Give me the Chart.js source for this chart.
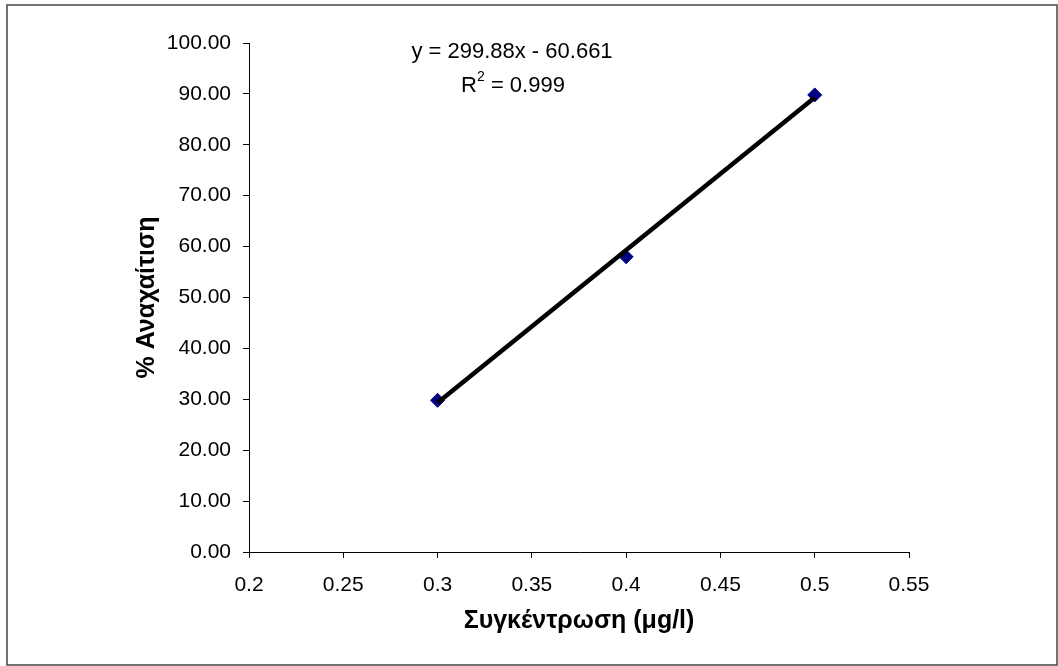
<!DOCTYPE html>
<html>
<head>
<meta charset="utf-8">
<script src="https://cdn.jsdelivr.net/npm/chart.js@4.4.0/dist/chart.umd.min.js"></script>
<style>
  html, body { margin: 0; padding: 0; background: #fff; }
  #wrap { position: relative; width: 1058px; height: 666px; }
</style>
</head>
<body>
<div id="wrap"><canvas id="chart"></canvas></div>
<script>
// concentration (μg/l) and % inhibition
const concentrations = [0.3, 0.4, 0.5];
const inhibition = [29.8, 58.0, 89.8];

// trendline as printed on the chart
const slope = 299.88;
const intercept = -60.661;
const rSquared = "0.999";

const xTitle = "Συγκέντρωση (μg/l)";
const yTitle = "% Αναχαίτιση";

let points = concentrations.map((c, i) => ({ x: c, y: inhibition[i] }));
let xFirst = concentrations[0];
let xLast = concentrations[concentrations.length - 1];
let trendPoints = [
    { x: xFirst, y: slope * xFirst + intercept },
    { x: xLast, y: slope * xLast + intercept }
];

const fontFamily = "'Liberation Sans', Arial, sans-serif";

// frame round the whole picture + the equation text
const extras = {
    id: "extras",
    afterDraw(chart) {
        let ctx = chart.ctx;
        ctx.save();
        ctx.strokeStyle = "#444";
        ctx.lineWidth = 1.5;
        ctx.strokeRect(7, 5, 1050, 660);

        ctx.fillStyle = "#000";
        ctx.font = "22px " + fontFamily;
        ctx.textAlign = "center";
        ctx.textBaseline = "middle";
        let sign = intercept < 0 ? " - " : " + ";
        ctx.fillText("y = " + slope + "x" + sign + Math.abs(intercept), 512, 52);

        // R² with a raised 2
        let rest = " = " + rSquared;
        let wR = ctx.measureText("R").width;
        ctx.font = "14px " + fontFamily;
        let w2 = ctx.measureText("2").width;
        ctx.font = "22px " + fontFamily;
        let wRest = ctx.measureText(rest).width;
        let startX = 513 - (wR + w2 + wRest) / 2;
        ctx.textAlign = "left";
        ctx.fillText("R", startX, 86);
        ctx.font = "14px " + fontFamily;
        ctx.fillText("2", startX + wR, 77);
        ctx.font = "22px " + fontFamily;
        ctx.fillText(rest, startX + wR + w2, 86);
        ctx.restore();
    }
};

let ctx = document.getElementById("chart").getContext("2d");
new Chart(ctx, {
    type: "scatter",
    data: {
        datasets: [
            {
                type: "line",
                label: "trend",
                data: trendPoints,
                borderColor: "#000",
                borderWidth: 4.5,
                pointRadius: 0,
                fill: false,
                order: 0
            },
            {
                label: "data",
                data: points,
                pointStyle: "rectRot",
                pointRadius: 7,
                pointBackgroundColor: "#000080",
                pointBorderColor: "#000080",
                pointBorderWidth: 1,
                order: 1
            }
        ]
    },
    options: {
        responsive: true,
        maintainAspectRatio: false,
        animation: false,
        layout: { padding: { left: 128, right: 149, top: 43, bottom: 26 } },
        plugins: {
            legend: { display: false },
            tooltip: { enabled: false }
        },
        scales: {
            x: {
                type: "linear",
                min: 0.2,
                max: 0.55,
                afterFit: s => { s.height = 88; },
                ticks: {
                    stepSize: 0.05,
                    padding: 15,
                    color: "#000",
                    font: { family: fontFamily, size: 21 },
                    callback: v => String(parseFloat(v.toFixed(2)))
                },
                grid: { display: true, drawOnChartArea: false, drawTicks: true, tickLength: 6, color: "#000" },
                border: { display: true, color: "#000", width: 1 },
                title: {
                    display: true,
                    text: xTitle,
                    color: "#000",
                    font: { family: fontFamily, size: 25, weight: "bold" }
                }
            },
            y: {
                min: 0,
                max: 100,
                afterFit: s => { s.width = 121; },
                ticks: {
                    stepSize: 10,
                    padding: 12,
                    color: "#000",
                    font: { family: fontFamily, size: 21 },
                    callback: v => v.toFixed(2)
                },
                grid: { display: true, drawOnChartArea: false, drawTicks: true, tickLength: 6, color: "#000" },
                border: { display: true, color: "#000", width: 1 },
                title: {
                    display: true,
                    text: yTitle,
                    color: "#000",
                    font: { family: fontFamily, size: 25, weight: "bold" }
                }
            }
        }
    },
    plugins: [extras]
});
</script>
</body>
</html>
